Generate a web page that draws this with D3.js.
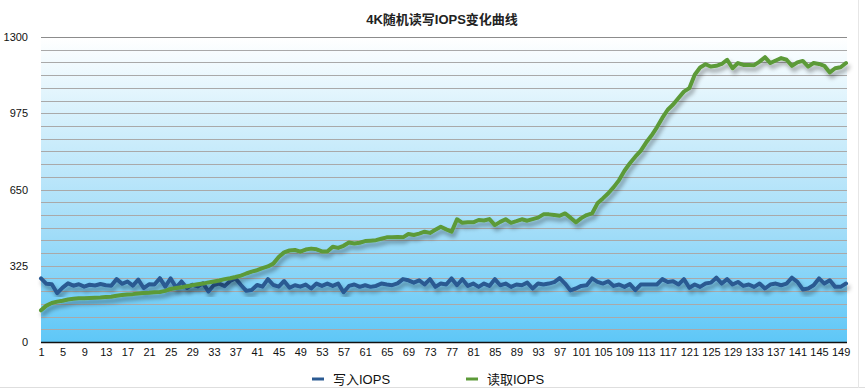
<!DOCTYPE html>
<html>
<head>
<meta charset="utf-8">
<script src="https://cdn.jsdelivr.net/npm/d3@7"></script>
<style>
  body { margin: 0; background: #fff; }
  text { font-family: "Liberation Sans", Arial, "Noto Sans CJK SC", sans-serif; }
</style>
</head>
<body>
<div id="chart-container"></div>
<script>
// data
const title = "4K随机读写IOPS变化曲线";
const seriesNames = ["写入IOPS", "读取IOPS"];
const seriesColors = ["#2b5a92", "#5c9a38"];
const yTicks = [0, 325, 650, 975, 1300];

const writeIops = [
  271, 248, 246, 208, 232, 250, 240, 246, 236, 244,
  241, 247, 242, 240, 268, 248, 258, 240, 266, 230,
  246, 245, 272, 236, 271, 232, 258, 230, 244, 237,
  250, 215, 243, 249, 238, 260, 271, 243, 218, 222,
  243, 236, 268, 243, 236, 260, 231, 242, 236, 245,
  228, 249, 239, 249, 239, 249, 212, 239, 245, 235,
  242, 235, 239, 249, 245, 242, 250, 268, 263, 253,
  263, 245, 268, 235, 249, 245, 271, 242, 268, 239,
  249, 235, 249, 239, 268, 242, 249, 235, 245, 242,
  253, 228, 249, 245, 249, 255, 272, 249, 220, 228,
  239, 242, 271, 256, 249, 259, 239, 245, 235, 247,
  221, 245, 245, 245, 245, 268, 256, 259, 245, 268,
  231, 245, 235, 249, 253, 274, 249, 268, 245, 256,
  239, 245, 235, 249, 228, 245, 249, 242, 249, 274,
  256, 224, 228, 242, 271, 249, 263, 235, 235, 249
];

const readIops = [
  135, 155, 166, 172, 176, 181, 184, 186, 187, 188,
  189, 190, 192, 193, 197, 200, 202, 204, 207, 209,
  210, 212, 213, 218, 226, 230, 233, 238, 242, 246,
  249, 254, 258, 262, 268, 272, 277, 283, 292, 300,
  306, 315, 322, 334, 362, 382, 390, 392, 385, 394,
  398, 395, 386, 386, 406, 401, 410, 424, 420, 423,
  430, 432, 434, 440, 446, 447, 448, 446, 460, 456,
  462, 470, 465, 478, 491, 480, 470, 523, 508, 510,
  510, 520, 518, 524, 498, 512, 523, 508, 515, 523,
  517, 524, 530, 544, 544, 541, 538, 548, 530, 510,
  528, 541, 548, 591, 612, 634, 660, 690, 730, 762,
  790, 815, 850, 880, 915, 955, 990, 1012, 1040, 1067,
  1082, 1139, 1170, 1184, 1174, 1177, 1185, 1203, 1167, 1189,
  1181, 1181, 1180, 1195, 1214, 1189, 1200, 1210, 1203, 1177,
  1192, 1198, 1174, 1189, 1185, 1177, 1149, 1167, 1171, 1189
];

const categories = d3.range(1, writeIops.length + 1);
const xTickLabels = categories.filter(d => (d - 1) % 4 === 0);

// set the dimensions and margins
const W = 865, H = 389;
const margin = {top: 37, right: 19, bottom: 47, left: 41};
const width = W - margin.left - margin.right;
const height = H - margin.top - margin.bottom;

const x = d3.scalePoint().domain(categories).range([0, width]);
const y = d3.scaleLinear().domain([0, 1300]).range([height, 0]);

const root = d3.select("#chart-container")
  .append("svg")
  .attr("width", W)
  .attr("height", H);

const defs = root.append("defs");

const grad = defs.append("linearGradient")
  .attr("id", "bg")
  .attr("x1", 0).attr("y1", 0).attr("x2", 0).attr("y2", 1);
grad.append("stop").attr("offset", "0%").attr("stop-color", "#ffffff");
grad.append("stop").attr("offset", "25%").attr("stop-color", "#d8f1fc");
grad.append("stop").attr("offset", "65%").attr("stop-color", "#a0dcf8");
grad.append("stop").attr("offset", "100%").attr("stop-color", "#5ec7f7");

const shadow = defs.append("filter")
  .attr("id", "shadow")
  .attr("x", "-5%").attr("y", "-20%")
  .attr("width", "110%").attr("height", "140%");
shadow.append("feDropShadow")
  .attr("dx", 2).attr("dy", 4)
  .attr("stdDeviation", 2)
  .attr("flood-color", "#000")
  .attr("flood-opacity", 0.35);

// frame lines at the edge of the picture
root.append("line")
  .attr("x1", 0).attr("x2", W)
  .attr("y1", 387.5).attr("y2", 387.5)
  .attr("stroke", "#dedede");
root.append("line")
  .attr("x1", 858.5).attr("x2", 858.5)
  .attr("y1", 0).attr("y2", 388)
  .attr("stroke", "#e6e6e6");

// title
root.append("text")
  .attr("x", 442)
  .attr("y", 24)
  .attr("text-anchor", "middle")
  .style("font-size", "13px")
  .style("font-weight", "bold")
  .attr("fill", "#222")
  .text(title);

const svg = root.append("g")
  .attr("transform", `translate(${margin.left},${margin.top})`);

// plot background
svg.append("rect")
  .attr("x", 0).attr("y", 0)
  .attr("width", width + 1)
  .attr("height", height)
  .attr("fill", "url(#bg)");

// horizontal gridlines, 24 of them
const gridStep = 1300 / 24;
svg.selectAll(".grid")
  .data(d3.range(1, 25).map(i => i * gridStep))
  .join("line")
  .attr("class", "grid")
  .attr("x1", 0)
  .attr("x2", width + 1)
  .attr("y1", d => Math.round(y(d)) + 0.5)
  .attr("y2", d => Math.round(y(d)) + 0.5)
  .attr("stroke", (d, i) => i === 23 ? "#8c8c8c" : "#a9a9a9")
  .attr("stroke-width", 1);

// y axis labels
svg.append("g")
  .style("font-size", "11px")
  .call(d3.axisLeft(y)
    .tickValues(yTicks)
    .tickFormat(d3.format("d"))
    .tickSize(0)
    .tickPadding(13))
  .call(g => g.select(".domain").remove())
  .selectAll(".tick text")
  .attr("fill", "#111");

// x axis
svg.append("g")
  .attr("transform", `translate(0,${height})`)
  .style("font-size", "11px")
  .call(d3.axisBottom(x)
    .tickValues(xTickLabels)
    .tickSize(0)
    .tickPadding(6))
  .call(g => g.select(".domain")
    .attr("d", `M0,0.5H${width + 1}`)
    .attr("stroke", "#111")
    .attr("stroke-width", 1.5))
  .selectAll(".tick text")
  .attr("fill", "#111");

// lines
const line = d3.line()
  .x((d, i) => x(categories[i]))
  .y(d => y(d));

[writeIops, readIops].forEach((s, k) => {
  svg.append("path")
    .datum(s)
    .attr("fill", "none")
    .attr("stroke", seriesColors[k])
    .attr("stroke-width", 4)
    .attr("stroke-linejoin", "round")
    .attr("stroke-linecap", "round")
    .attr("filter", "url(#shadow)")
    .attr("d", line);
});

// legend
const legendX = [312, 466];
const legend = root.selectAll(".legend")
  .data(seriesNames)
  .join("g")
  .attr("class", "legend")
  .attr("transform", (d, i) => `translate(${legendX[i]},379)`);

legend.append("line")
  .attr("x1", 0).attr("x2", 12)
  .attr("y1", 0).attr("y2", 0)
  .attr("stroke", (d, i) => seriesColors[i])
  .attr("stroke-width", 3);

legend.append("text")
  .attr("x", 21)
  .attr("y", 5)
  .style("font-size", "13px")
  .attr("fill", "#111")
  .text(d => d);
</script>
</body>
</html>
